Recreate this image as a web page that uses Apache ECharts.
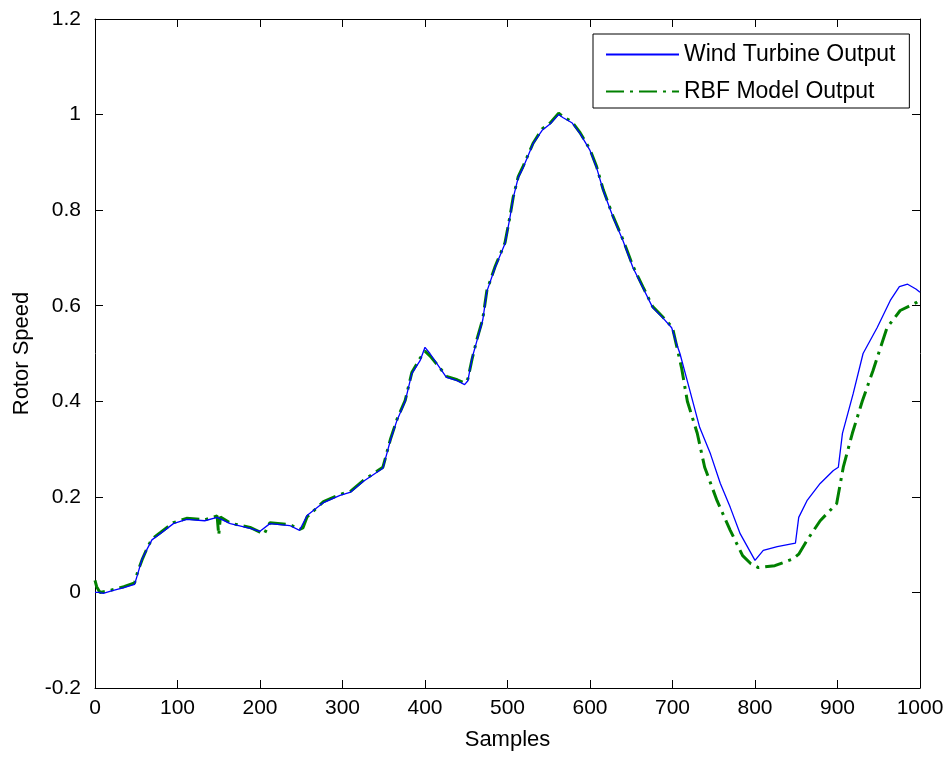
<!DOCTYPE html>
<html>
<head>
<meta charset="utf-8">
<script src="https://cdn.jsdelivr.net/npm/echarts@6/dist/echarts.min.js"></script>
<style>
  html, body { margin: 0; padding: 0; background: #fff; }
  #chart { width: 949px; height: 757px; }
</style>
</head>
<body>
<div id="chart"></div>
<script>
// 风机实测转速
const turbineX = [0, 5, 10, 20, 35, 48, 52, 57, 63, 69, 79, 95, 111, 133, 148, 164, 188, 200, 212, 236, 248, 257, 277, 297, 310, 325, 349, 358, 366, 376, 384, 394, 400, 406, 418, 426, 439, 448, 452, 457, 463, 470, 475, 485, 497, 503, 507, 513, 519, 531, 542, 552, 562, 567, 578, 588, 600, 608, 616, 628, 640, 652, 664, 676, 688, 699, 705, 709, 721, 733, 746, 758, 770, 782, 800, 810, 827, 849, 853, 863, 879, 895, 901, 906, 919, 931, 948, 964, 975, 985, 995, 1000];
const turbineY = [0.0, 0.0, -0.002, 0.003, 0.01, 0.017, 0.04, 0.07, 0.09, 0.11, 0.123, 0.144, 0.153, 0.15, 0.157, 0.144, 0.134, 0.128, 0.144, 0.14, 0.13, 0.161, 0.188, 0.203, 0.21, 0.232, 0.26, 0.318, 0.36, 0.40, 0.458, 0.485, 0.513, 0.5, 0.47, 0.45, 0.443, 0.435, 0.443, 0.49, 0.527, 0.57, 0.63, 0.68, 0.73, 0.785, 0.826, 0.868, 0.889, 0.939, 0.967, 0.981, 1.0, 0.994, 0.983, 0.96, 0.925, 0.889, 0.841, 0.785, 0.736, 0.68, 0.638, 0.596, 0.575, 0.554, 0.52, 0.50, 0.423, 0.345, 0.29, 0.228, 0.178, 0.123, 0.067, 0.088, 0.096, 0.103, 0.157, 0.192, 0.228, 0.255, 0.262, 0.333, 0.416, 0.5, 0.554, 0.611, 0.64, 0.645, 0.635, 0.628];

// RBF 模型输出
const rbfX = [0, 2, 6, 12, 20, 35, 48, 52, 57, 63, 69, 79, 95, 111, 133, 148, 150, 152, 164, 188, 200, 205, 212, 236, 248, 252, 257, 277, 297, 310, 325, 349, 358, 366, 376, 384, 394, 400, 406, 418, 426, 439, 448, 452, 457, 463, 470, 475, 485, 497, 503, 507, 513, 519, 531, 542, 552, 562, 567, 578, 588, 600, 608, 616, 628, 640, 652, 664, 676, 688, 700, 711, 718, 730, 739, 754, 770, 785, 795, 804, 824, 846, 853, 863, 879, 899, 907, 918, 930, 943, 960, 976, 996, 1000];
const rbfY = [0.025, 0.012, 0.0, 0.002, 0.005, 0.012, 0.02, 0.045, 0.068, 0.092, 0.112, 0.125, 0.146, 0.155, 0.152, 0.16, 0.12, 0.158, 0.145, 0.136, 0.126, 0.122, 0.146, 0.142, 0.132, 0.135, 0.158, 0.19, 0.205, 0.212, 0.234, 0.262, 0.32, 0.362, 0.402, 0.46, 0.49, 0.505, 0.495, 0.47, 0.452, 0.445, 0.438, 0.447, 0.488, 0.53, 0.572, 0.632, 0.682, 0.732, 0.787, 0.828, 0.87, 0.892, 0.94, 0.97, 0.983, 1.003, 0.996, 0.985, 0.962, 0.927, 0.891, 0.843, 0.787, 0.738, 0.683, 0.64, 0.598, 0.577, 0.554, 0.47, 0.40, 0.333, 0.262, 0.192, 0.13, 0.077, 0.06, 0.052, 0.056, 0.07, 0.08, 0.109, 0.15, 0.186, 0.262, 0.333, 0.40, 0.464, 0.554, 0.59, 0.607, 0.612];

const yTicks = { min: -0.2, max: 1.2, interval: 0.2 };
const xTicks = { min: 0, max: 1000, interval: 100 };

const chart = echarts.init(document.getElementById('chart'));
const font = 'Liberation Sans, Arial, sans-serif';

const zip = (xs, ys) => xs.map((x, i) => [x, ys[i]]);

const plainAxis = {
  axisLine: { show: true, onZero: false, lineStyle: { color: '#000', width: 1 } },
  axisTick: { show: true, inside: true, length: 8, lineStyle: { color: '#000' } },
  splitLine: { show: false }
};

const option = {
  backgroundColor: '#fff',
  animation: false,
  grid: { left: 95, right: 29, top: 19, bottom: 69, containLabel: false },
  legend: {
    orient: 'vertical',
    left: 593,
    top: 34,
    padding: [9, 14, 5, 12],
    itemGap: 14,
    itemWidth: 73,
    itemHeight: 14,
    borderColor: '#000',
    borderWidth: 1,
    backgroundColor: '#fff',
    itemStyle: { opacity: 0 },
    textStyle: { fontFamily: font, fontSize: 23, color: '#000' },
    data: ['Wind Turbine Output', 'RBF Model Output']
  },
  xAxis: [
    {
      type: 'value', position: 'bottom', ...xTicks, ...plainAxis,
      name: 'Samples', nameLocation: 'middle', nameGap: 41,
      nameTextStyle: { fontFamily: font, fontSize: 22, color: '#000' },
      axisLabel: { fontFamily: font, fontSize: 21, color: '#000', margin: 10, formatter: v => String(v) }
    },
    {
      type: 'value', position: 'top', ...xTicks, ...plainAxis,
      axisLabel: { show: false }
    }
  ],
  yAxis: [
    {
      type: 'value', position: 'left', ...yTicks, ...plainAxis,
      name: 'Rotor Speed', nameLocation: 'middle', nameGap: 62,
      nameTextStyle: { fontFamily: font, fontSize: 22, color: '#000' },
      axisLabel: { fontFamily: font, fontSize: 21, color: '#000', margin: 14 }
    },
    {
      type: 'value', position: 'right', ...yTicks, ...plainAxis,
      axisLabel: { show: false }
    }
  ],
  series: [
    {
      name: 'Wind Turbine Output',
      type: 'line',
      symbol: 'none',
      data: zip(turbineX, turbineY),
      lineStyle: { color: '#0000ff', width: 1.3 },
      itemStyle: { color: '#0000ff' },
      z: 3
    },
    {
      name: 'RBF Model Output',
      type: 'line',
      symbol: 'none',
      data: zip(rbfX, rbfY),
      lineStyle: { color: '#008000', width: 3, type: [18, 6, 3, 6] },
      itemStyle: { color: '#008000' },
      z: 2
    }
  ]
};

chart.setOption(option);
</script>
</body>
</html>
